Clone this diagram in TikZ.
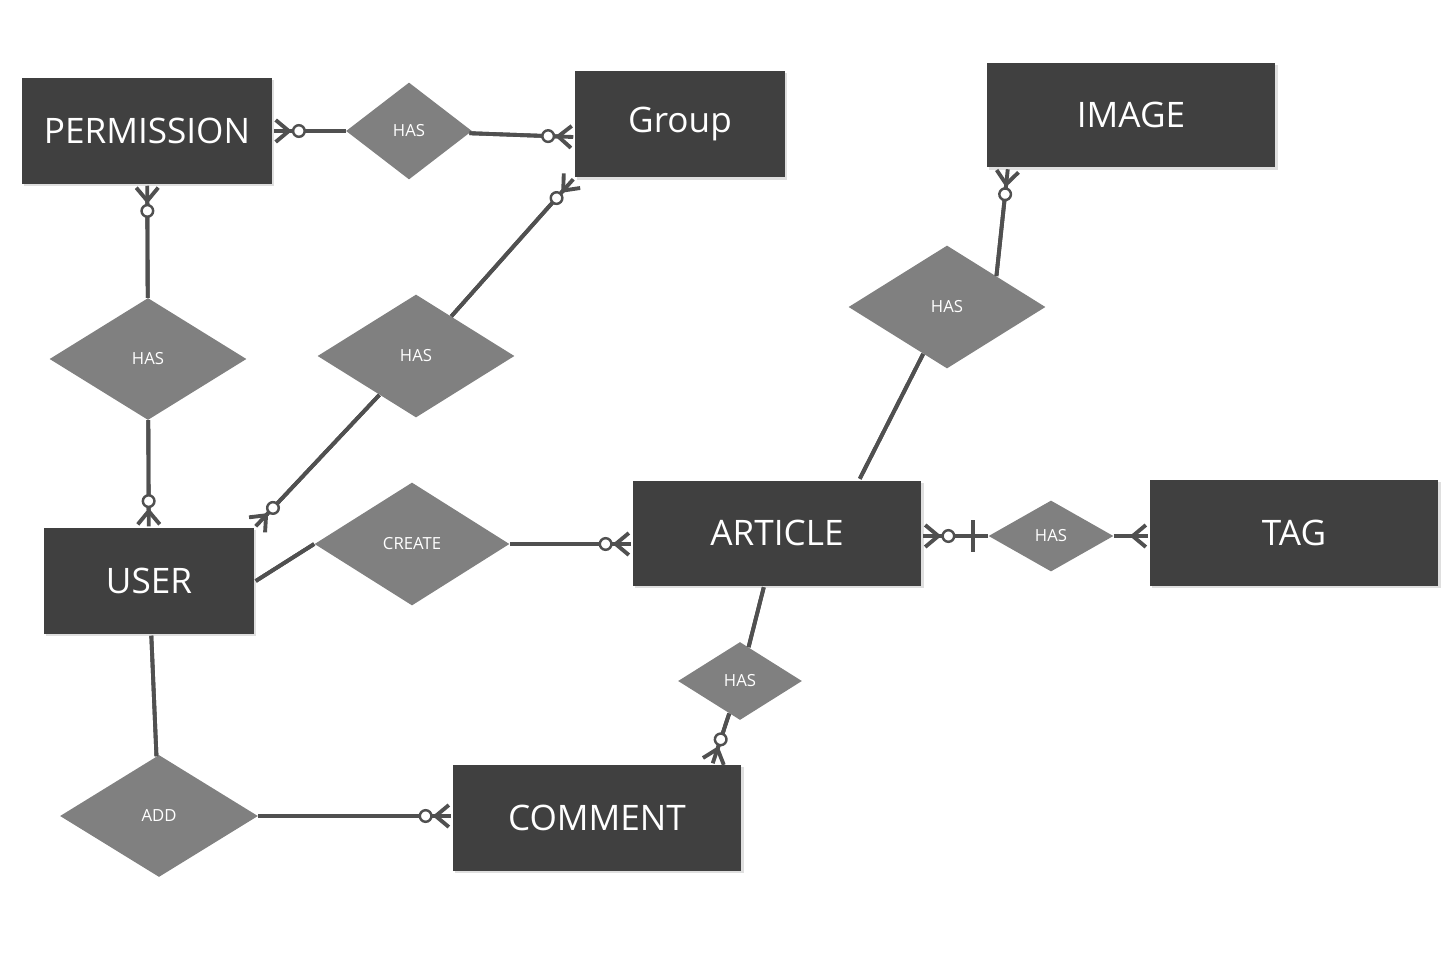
\documentclass[tikz,border=0pt]{standalone}
\usepackage{fontspec}
\setmainfont{Open Sans}
\usetikzlibrary{shapes.geometric,arrows.meta,calc,shadows}
\definecolor{entgray}{HTML}{404040}
\definecolor{relgray}{HTML}{808080}
\definecolor{lingray}{HTML}{505050}
\tikzset{
  ent/.style={fill=entgray, text=white, font=\fontsize{20}{24}\selectfont,
    minimum height=2.12cm, outer sep=1pt,
    drop shadow={opacity=0.25, shadow xshift=1.2pt, shadow yshift=-1.2pt}},
  rel/.style={diamond, fill=relgray, text=white, inner sep=0pt,
    font=\fontsize{9.5}{11}\selectfont},
  con/.style={draw=lingray, line width=2.2pt, preaction={draw=lingray, line width=2.2pt, -}},
  zm/.tip={Circle[length=8pt, width=8pt, line width=1.4pt, fill=white] Straight Barb[reversed, length=7.5pt, width=12.5pt]},
  om/.tip={Straight Barb[reversed, length=7.5pt, width=12.5pt]}
}
\begin{document}
\begin{tikzpicture}[x=0.02cm, y=-0.02cm]
\useasboundingbox (0,0) rectangle (1446,974);

% entities
\node[ent, minimum width=5cm] (perm) at (147,131) {PERMISSION};
\node[ent, minimum width=4.2cm, minimum height=2.14cm] (grp) at (680,124) {Group};
\node[ent, minimum width=5.78cm, minimum height=2.1cm] (img) at (1131,115) {IMAGE};
\node[ent, minimum width=4.2cm] (usr) at (149,581) {USER};
\node[ent, minimum width=5.78cm, minimum height=2.1cm] (art) at (777,533) {ARTICLE};
\node[ent, minimum width=5.78cm] (tag) at (1294,533) {TAG};
\node[ent, minimum width=5.78cm] (cmt) at (597,818) {COMMENT};

% relations
\node[rel, minimum width=2.52cm, minimum height=1.94cm] (hasPG) at (409,131) {HAS};
\node[rel, minimum width=3.94cm, minimum height=2.44cm] (hasPU) at (148,359) {HAS};
\node[rel, minimum width=3.94cm, minimum height=2.46cm] (hasUG) at (416,356) {HAS};
\node[rel, minimum width=3.94cm, minimum height=2.46cm] (hasAI) at (947,307) {HAS};
\node[rel, minimum width=3.9cm, minimum height=2.46cm] (create) at (412,544) {CREATE};
\node[rel, minimum width=2.5cm, minimum height=1.42cm] (hasAT) at (1051,536) {HAS};
\node[rel, minimum width=2.48cm, minimum height=1.56cm] (hasAC) at (740,681) {HAS};
\node[rel, minimum width=3.96cm, minimum height=2.44cm] (add) at (159,816) {ADD};

\coordinate (grpP) at ($(grp.west)+(0,13)$);
\coordinate (artI) at ($(art.north west)+(229,0)$);
\coordinate (imgA) at ($(img.south west)+(23,0)$);
\coordinate (artC) at ($(art.south west)+(133,0)$);
\coordinate (cmtA) at ($(cmt.north west)+(262,0)$);

\draw[con, -zm] (hasPG) -- (perm);
\draw[con, -zm] (hasPG) -- (grpP);
\draw[con, -zm] (hasPU) -- (perm);
\draw[con, -zm] (hasPU) -- (usr);
\draw[con, -zm] (hasUG) -- (grp.south west);
\draw[con, -zm] (hasUG) -- (usr.north east);
\draw[con] (create.west) -- (usr.east);
\draw[con, -zm] (create) -- (art.west |- create);
\draw[con] (hasAI) -- (artI);
\draw[con, -zm] (hasAI.north east) -- (imgA);
\draw[con, -{Bar[width=18pt, line width=2pt, sep=9pt] zm}] (hasAT) -- (art.east |- hasAT);
\draw[con, -om] (hasAT) -- (tag.west |- hasAT);
\draw[con] (hasAC) -- (artC);
\draw[con, -zm] (hasAC) -- (cmtA);
\draw[con] (add) -- (usr);
\draw[con, -zm] (add) -- (cmt.west |- add);
\end{tikzpicture}
\end{document}
